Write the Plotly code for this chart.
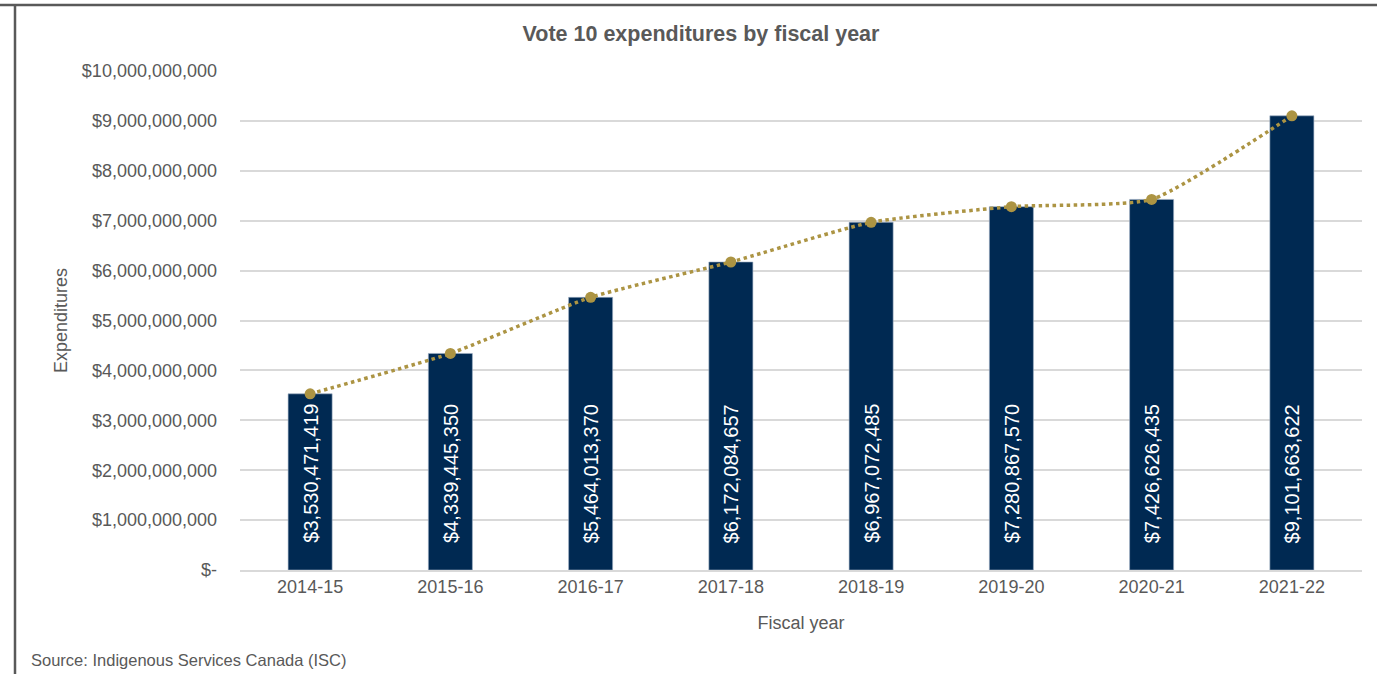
import plotly.graph_objects as go

# Vote 10 expenditures, ISC
fiscal_years = ["2014-15", "2015-16", "2016-17", "2017-18",
                "2018-19", "2019-20", "2020-21", "2021-22"]
expenditures = [3530471419, 4339445350, 5464013370, 6172084657,
                6967072485, 7280867570, 7426626435, 9101663622]
y_tick_values = [0, 1e9, 2e9, 3e9, 4e9, 5e9, 6e9, 7e9, 8e9, 9e9, 1e10]
y_tick_labels = ["$-", "$1,000,000,000", "$2,000,000,000", "$3,000,000,000",
                 "$4,000,000,000", "$5,000,000,000", "$6,000,000,000",
                 "$7,000,000,000", "$8,000,000,000", "$9,000,000,000",
                 "$10,000,000,000"]

NAVY = "#002952"
GOLD = "#AC9443"
GREY = "#595959"
FONT = "Liberation Sans, Arial, sans-serif"

bar_labels = [f"${v:,.0f}" for v in expenditures]

fig = go.Figure()
fig.add_trace(go.Bar(
    x=fiscal_years, y=expenditures,
    marker=dict(color=NAVY, line=dict(color="#9fb0c4", width=0.6)),
    hoverinfo="x+y", showlegend=False,
))
fig.add_trace(go.Scatter(
    x=fiscal_years, y=expenditures, mode="lines+markers",
    line=dict(color=GOLD, width=3.5, dash="dot", shape="spline", smoothing=0.5),
    marker=dict(color=GOLD, size=11),
    showlegend=False, hoverinfo="skip",
))

# value labels, written upward from the base of each bar
annotations = [
    dict(x=fy, y=0, xref="x", yref="y", text=lab, textangle=-90,
         xanchor="center", yanchor="bottom", yshift=25, showarrow=False,
         font=dict(color="white", size=20, family=FONT))
    for fy, lab in zip(fiscal_years, bar_labels)
]
annotations.append(
    dict(text="Source: Indigenous Services Canada (ISC)",
         xref="paper", yref="paper",
         x=-211 / 1122, y=-(660 - 570) / 499,
         xanchor="left", yanchor="middle", showarrow=False,
         font=dict(size=16.5, color=GREY, family=FONT))
)

fig.update_layout(
    width=1377, height=674,
    margin=dict(l=240, r=15, t=71, b=104),
    paper_bgcolor="white", plot_bgcolor="white",
    font=dict(family=FONT, color=GREY, size=18),
    bargap=0.686,
    title=dict(text="<b>Vote 10 expenditures by fiscal year</b>",
               x=701 / 1377, xanchor="center", xref="container",
               y=1 - 33 / 674, yanchor="middle", yref="container",
               font=dict(size=21.5, color=GREY, family=FONT)),
    xaxis=dict(
        title=dict(text="Fiscal year", font=dict(size=18, color=GREY), standoff=20),
        showgrid=False, showline=True, linecolor="#d9d9d9", linewidth=1.5,
        ticks="", tickfont=dict(size=18, color=GREY),
    ),
    yaxis=dict(
        title=dict(text="Expenditures", font=dict(size=18, color=GREY), standoff=9),
        range=[0, 1e10], tickvals=y_tick_values, ticktext=y_tick_labels,
        showgrid=True, gridcolor="#d9d9d9", gridwidth=1.5,
        zeroline=False, ticks="", ticklabelstandoff=22,
        tickfont=dict(size=18, color=GREY),
    ),
    shapes=[
        dict(type="line", xref="paper", yref="paper",
             x0=-240 / 1122, x1=(1377 - 240) / 1122,
             y0=(674 - 104 - 5) / 499, y1=(674 - 104 - 5) / 499,
             line=dict(color="#595959", width=2.5)),
        dict(type="line", xref="paper", yref="paper",
             x0=-225 / 1122, x1=-225 / 1122,
             y0=-104 / 499, y1=(674 - 104 - 5) / 499,
             line=dict(color="#595959", width=2.5)),
    ],
    annotations=annotations,
)

fig.write_html("out.html")
